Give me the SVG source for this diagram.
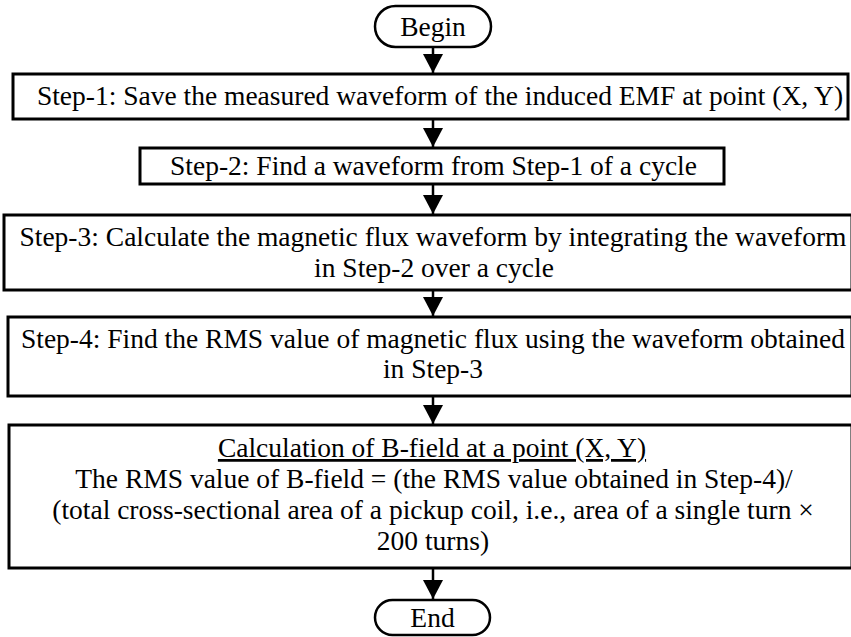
<svg xmlns="http://www.w3.org/2000/svg" width="851" height="637" viewBox="0 0 851 637">
<style>
  .box { fill: #fff; stroke: #000; stroke-width: 3; }
  .term { fill: #fff; stroke: #000; stroke-width: 2.5; }
  .t { font-family: "Liberation Serif", "Times New Roman", serif; font-size: 27.5px; fill: #000; text-anchor: middle; }
  .conn { stroke: #000; stroke-width: 2.5; fill: none; marker-end: url(#arrow); }
</style>
<defs>
  <marker id="arrow" markerUnits="userSpaceOnUse" markerWidth="20" markerHeight="22" viewBox="0 0 20 22" refX="19" refY="11" orient="auto">
    <path d="M0,1 L19,11 L0,21 Z" fill="#000"/>
  </marker>
</defs>
<rect width="851" height="637" fill="#fff"/>
<g id="connectors">
  <line class="conn" x1="433" y1="47" x2="433" y2="73"/>
  <line class="conn" x1="433" y1="119" x2="433" y2="147"/>
  <line class="conn" x1="433" y1="184" x2="433" y2="214"/>
  <line class="conn" x1="433" y1="290" x2="433" y2="316"/>
  <line class="conn" x1="433" y1="396" x2="433" y2="424"/>
  <line class="conn" x1="433" y1="568" x2="433" y2="599"/>
</g>
<g id="begin">
  <rect class="term" x="375" y="6" width="116" height="41" rx="20.5"/>
  <text class="t" x="433" y="36">Begin</text>
</g>
<g id="step1">
  <rect class="box" x="13" y="74" width="835" height="45"/>
  <text class="t" x="440" y="105">Step-1: Save the measured waveform of the induced EMF at point (X, Y)</text>
</g>
<g id="step2">
  <rect class="box" x="140" y="148" width="584" height="36"/>
  <text class="t" x="433.5" y="175">Step-2: Find a waveform from Step-1 of a cycle</text>
</g>
<g id="step3">
  <rect class="box" x="4" y="215" width="848" height="75"/>
  <text class="t" x="433" y="246">Step-3: Calculate the magnetic flux waveform by integrating the waveform</text>
  <text class="t" x="434" y="277">in Step-2 over a cycle</text>
</g>
<g id="step4">
  <rect class="box" x="8" y="317" width="844" height="79"/>
  <text class="t" x="433" y="348">Step-4: Find the RMS value of magnetic flux using the waveform obtained</text>
  <text class="t" x="433" y="378">in Step-3</text>
</g>
<g id="calc">
  <rect class="box" x="9" y="425" width="843" height="143"/>
  <text class="t" x="432" y="457" text-decoration="underline">Calculation of B-field at a point (X, Y)</text>
  <text class="t" x="434" y="488">The RMS value of B-field  =  (the RMS value obtained in Step-4)/</text>
  <text class="t" x="433" y="519">(total cross-sectional area of a pickup coil, i.e., area of a single turn ×</text>
  <text class="t" x="433" y="550">200 turns)</text>
</g>
<g id="end">
  <rect class="term" x="375" y="600" width="115" height="35" rx="17.5"/>
  <text class="t" x="432.5" y="627">End</text>
</g>
</svg>
